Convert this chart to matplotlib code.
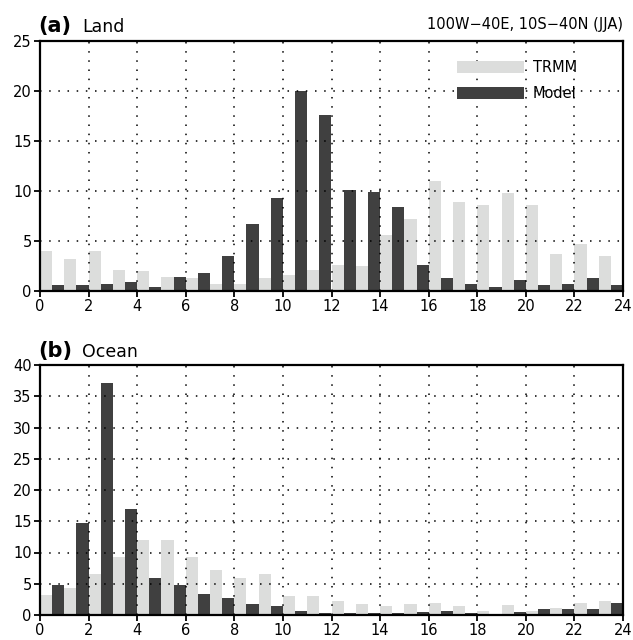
import numpy as np
import matplotlib.pyplot as plt
from matplotlib.patches import Patch

hours = np.arange(24)

land_trmm = [4.0, 3.2, 4.0, 2.1, 2.0, 1.4, 1.3, 0.7, 0.7, 1.3, 1.6, 2.1,
             2.6, 2.5, 5.6, 7.2, 11.0, 8.9, 8.6, 9.8, 8.6, 3.7, 4.7, 3.5]
land_model = [0.6, 0.6, 0.7, 0.9, 0.4, 1.4, 1.8, 3.5, 6.7, 9.3, 20.0, 17.6,
              10.1, 9.9, 8.4, 2.6, 1.3, 0.7, 0.4, 1.1, 0.6, 0.7, 1.3, 0.6]

ocean_trmm = [3.2, 4.4, 6.5, 9.25, 12.0, 12.0, 9.25, 7.2, 6.0, 6.5, 3.0, 3.0,
              2.2, 1.7, 1.4, 1.7, 1.9, 1.4, 0.6, 1.55, 0.6, 1.2, 1.9, 2.2]
ocean_model = [4.75, 14.75, 37.2, 16.95, 5.9, 4.75, 3.3, 2.7, 1.7, 1.45, 0.6, 0.3,
               0.3, 0.3, 0.3, 0.5, 0.6, 0.3, 0.1, 0.5, 0.9, 0.9, 0.9, 1.9]

trmm_color = '#dcdddc'
model_color = '#404040'

fig = plt.figure(figsize=(6.33, 6.4), dpi=100)
W, H = 633, 640
ax1 = fig.add_axes([40 / W, 1 - 291 / H, 583 / W, 250 / H])
ax2 = fig.add_axes([40 / W, 1 - 615 / H, 583 / W, 250 / H])


def draw_panel(ax, trmm, model, ymax):
    ax.bar(hours, trmm, width=0.5, align='edge', color=trmm_color, zorder=1)
    ax.bar(hours + 0.5, model, width=0.5, align='edge', color=model_color, zorder=1)
    ax.set_xlim(0, 24)
    ax.set_ylim(0, ymax)
    ax.set_xticks(np.arange(0, 25, 2))
    ax.set_yticks(np.arange(0, ymax + 1, 5))
    ax.grid(True, color='black', linestyle=(0, (1, 5)), linewidth=1.1, zorder=2)
    ax.set_axisbelow(False)
    for s in ax.spines.values():
        s.set_linewidth(1.6)
        s.set_zorder(3)
    ax.tick_params(direction='out', length=4, width=1.3, labelsize=10.5, pad=2)


draw_panel(ax1, land_trmm, land_model, 25)
draw_panel(ax2, ocean_trmm, ocean_model, 40)

fig.text(38 / W, 1 - 32 / H, '(a)', fontsize=15, fontweight='bold', va='baseline')
fig.text(82 / W, 1 - 32 / H, 'Land', fontsize=12.5, va='baseline')
fig.text(623 / W, 1 - 29 / H, '100W\u221240E, 10S\u221240N (JJA)', fontsize=10.5,
         ha='right', va='baseline')
fig.text(38 / W, 1 - 357 / H, '(b)', fontsize=15, fontweight='bold', va='baseline')
fig.text(82 / W, 1 - 357 / H, 'Ocean', fontsize=12.5, va='baseline')

handles = [Patch(facecolor=trmm_color, edgecolor='none', label='TRMM'),
           Patch(facecolor=model_color, edgecolor='none', label='Model')]
ax1.legend(handles=handles, loc='upper left', bbox_to_anchor=(0.715, 0.925),
           frameon=False, fontsize=10.5, handlelength=4.6, handleheight=0.9,
           handletextpad=0.6, labelspacing=0.8, borderaxespad=0, borderpad=0)

fig.savefig('out.png', dpi=100)
